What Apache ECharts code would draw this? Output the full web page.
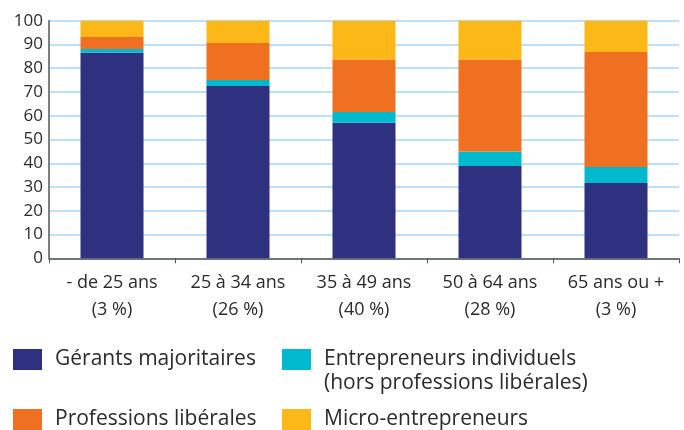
<!DOCTYPE html>
<html>
<head>
<meta charset="utf-8">
<script src="https://cdn.jsdelivr.net/npm/echarts@6/dist/echarts.min.js"></script>
<style>html,body{margin:0;padding:0;background:#fff}#c{width:684px;height:430px}</style>
</head>
<body>
<div id="c"></div>
<script>
var categories = ['- de 25 ans\n(3 %)', '25 à 34 ans\n(26 %)', '35 à 49 ans\n(40 %)', '50 à 64 ans\n(28 %)', '65 ans ou +\n(3 %)'];
var gerants = [86.5, 72.5, 57.0, 38.8, 31.7];
var entrepreneurs = [1.6, 2.5, 4.6, 6.1, 6.7];
var liberales = [5.0, 15.6, 22.1, 38.8, 48.4];
var micro = [6.9, 9.4, 16.3, 16.3, 13.2];
var seriesNames = ['Gérants majoritaires', 'Entrepreneurs individuels', 'Professions libérales', 'Micro-entrepreneurs'];
var colors = ['#2e3080', '#00b9cf', '#f07022', '#fbb817'];
var font = 'Open Sans';
var txt = '#2b2b2b';

var chart = echarts.init(document.getElementById('c'), null, {renderer: 'canvas'});
function legendAt(name, left, top) {
  return {
    data: [name], left: left, top: top, padding: 0,
    itemWidth: 29, itemHeight: 21, selectedMode: false,
    icon: 'rect',
    textStyle: {fontFamily: font, fontSize: 21, color: txt, padding: [0, 0, 0, 8]}
  };
}
var datas = [gerants, entrepreneurs, liberales, micro];
chart.setOption({
  animation: false,
  color: colors,
  grid: {left: 49, right: 5, top: 20.7, bottom: 171.7, containLabel: false},
  xAxis: {
    type: 'category', data: categories,
    axisLine: {lineStyle: {color: '#555', width: 1.5}},
    axisTick: {show: true, length: 5, lineStyle: {color: '#555'}},
    axisLabel: {fontFamily: font, fontSize: 18, color: txt, lineHeight: 27, margin: 11, interval: 0}
  },
  yAxis: {
    type: 'value', min: 0, max: 100, interval: 10,
    axisLine: {show: true, lineStyle: {color: '#555', width: 1.5}},
    axisTick: {show: false},
    splitLine: {lineStyle: {color: '#a9d5f2', width: 1.5}},
    axisLabel: {fontFamily: font, fontSize: 17, color: txt, margin: 6}
  },
  legend: [
    legendAt(seriesNames[0], 13, 349),
    legendAt(seriesNames[1], 282, 349),
    legendAt(seriesNames[2], 13, 409),
    legendAt(seriesNames[3], 282, 409)
  ],
  graphic: [{
    type: 'text', left: 324, top: 373,
    style: {text: '(hors professions libérales)', font: '21px "Open Sans"', fill: txt}
  }],
  series: datas.map(function (d, i) {
    return {name: seriesNames[i], type: 'bar', stack: 'total', data: d, barWidth: '50%'};
  })
});
</script>
</body>
</html>
